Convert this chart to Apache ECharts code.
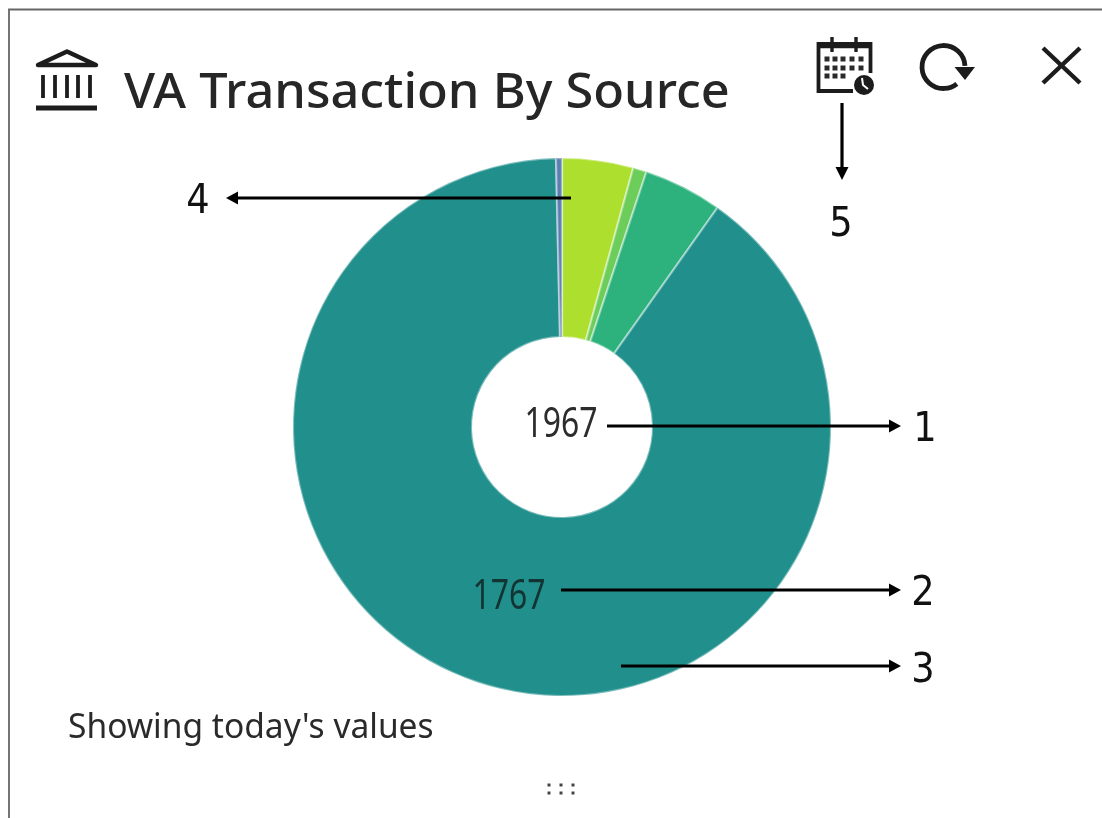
<!DOCTYPE html>
<html>
<head>
<meta charset="utf-8">
<style>html,body{margin:0;padding:0;background:#fff}#c{width:1102px;height:818px}</style>
<script src="https://cdn.jsdelivr.net/npm/echarts@6/dist/echarts.min.js"></script>
</head>
<body>
<div id="c"></div>
<script>
const sources = ['Source A', 'Source B', 'Source C', 'Source D', 'Source E'];
const values = [84, 16, 93, 1767, 7];
const colors = ['#addf2f', '#6ccd5a', '#2db27d', '#21908d', '#5b7db1'];
const totalLabel = '1967';
const mainLabel = '1767';
const titleText = 'VA Transaction By Source';
const footText = "Showing today's values";
const ink = '#222';

const chart = echarts.init(document.getElementById('c'), null, {renderer: 'canvas'});

function line(x1, y1, x2, y2, w, color) {
  return {type: 'line', z: 20, shape: {x1, y1, x2, y2}, style: {stroke: color || '#000', lineWidth: w}};
}
function tri(points, color) {
  return {type: 'polygon', z: 20, shape: {points}, style: {fill: color || '#000'}};
}
function txt(x, y, text, size, opts, scaleX) {
  return {type: 'text', z: 21, x, y, scaleX: scaleX || 1, style: Object.assign({
    text, fontSize: size, fontFamily: '"Noto Sans", sans-serif', fill: ink,
    align: 'center', verticalAlign: 'middle'
  }, opts || {})};
}
function dot(x, y, s, color) {
  return {type: 'rect', z: 20, shape: {x: x - s / 2, y: y - s / 2, width: s, height: s}, style: {fill: color || '#222'}};
}
function arrowH(x1, x2, y) {
  const d = x2 > x1 ? 1 : -1;
  return [line(x1, y, x2 - d * 8, y, 3.2), tri([[x2, y], [x2 - d * 12, y - 6.5], [x2 - d * 12, y + 6.5]])];
}
function arrowV(x, y1, y2) {
  return [line(x, y1, x, y2 - 8, 3.2), tri([[x, y2], [x - 6.5, y2 - 13], [x + 6.5, y2 - 13]])];
}

const g = [];
// frame
g.push({type: 'polyline', z: 1, shape: {points: [[9, 818], [9, 9.5], [1102, 9.5]]}, style: {stroke: '#666', lineWidth: 1.8, fill: null}});
// bank icon
g.push({type: 'polygon', z: 20, shape: {points: [[38, 65], [67, 51.5], [96, 65]]}, style: {fill: null, stroke: '#1c1c1c', lineWidth: 4.4, lineJoin: 'round'}});
[43, 55, 67, 78, 90].forEach(x => g.push(line(x, 75, x, 98, 3.8, '#1c1c1c')));
g.push(line(36, 108, 97, 108, 4.8, '#1c1c1c'));
// title and footer
g.push(txt(124, 94, titleText, 49, {align: 'left', fill: '#262626', fontWeight: 500}, 1.03));
g.push(txt(68, 728, footText, 35, {align: 'left', fill: '#2a2a2a'}, 0.958));
// calendar icon
g.push({type: 'polyline', z: 20, shape: {points: [[853, 91], [818.5, 91], [818.5, 44], [870.5, 44], [870.5, 73]]}, style: {stroke: '#1c1c1c', lineWidth: 3.8, fill: null}});
g.push(line(818, 46, 871, 46, 4.6, '#1c1c1c'));
g.push(line(832, 37, 832, 52, 3.4, '#1c1c1c'));
g.push(line(856, 37, 856, 52, 3.4, '#1c1c1c'));
[[59, 5], [68, 5], [76, 3]].forEach(r => {
  [827, 835, 843, 852, 861].slice(0, r[1]).forEach(x => g.push(dot(x, r[0], 5, '#2a2a2a')));
});
g.push({type: 'circle', z: 20, shape: {cx: 864, cy: 85, r: 10}, style: {fill: '#1c1c1c'}});
g.push({type: 'polyline', z: 21, shape: {points: [[862, 78], [863, 85], [868, 89]]}, style: {stroke: '#fff', lineWidth: 2, fill: null}});
// refresh icon
g.push({type: 'arc', z: 20, shape: {cx: 943.5, cy: 67, r: 21.5, startAngle: -0.05, endAngle: 0.9, clockwise: false}, style: {stroke: '#1c1c1c', lineWidth: 4.8, fill: null}});
g.push(tri([[954.5, 67], [975, 67], [965, 80]], '#1c1c1c'));
// close icon
g.push(line(1043, 48, 1080, 83, 4.4, '#1c1c1c'));
g.push(line(1080, 48, 1043, 83, 4.4, '#1c1c1c'));
// centre numbers
g.push(txt(561, 425, totalLabel, 42, {fontWeight: 400, fill: '#2c2c2c'}, 0.76));
g.push(txt(509, 597, mainLabel, 42, {fontWeight: 400, fill: '#123432'}, 0.76));
// callouts
g.push(...arrowH(607, 901, 426), ...arrowH(561, 901, 590), ...arrowH(621, 901, 666), ...arrowH(571, 226, 198), ...arrowV(842, 103, 180));
const numFont = {fill: '#111', fontFamily: '"DejaVu Sans", sans-serif'};
g.push(txt(925, 431, '1', 40, numFont, 0.92));
g.push(txt(923, 595, '2', 40, numFont, 0.92));
g.push(txt(923, 672, '3', 40, numFont, 0.92));
g.push(txt(198, 203, '4', 40, numFont, 0.92));
g.push(txt(841, 226, '5', 40, numFont, 0.92));
// handle dots
[[549, 785], [549, 793], [561, 785], [561, 793], [573, 785], [573, 793]].forEach(p => g.push(dot(p[0], p[1], 3, '#444')));

chart.setOption({
  animation: false,
  backgroundColor: '#fff',
  color: colors,
  tooltip: {show: false},
  legend: {show: false},
  series: [{
    type: 'pie',
    center: [562, 427],
    radius: [90, 269],
    startAngle: 90,
    clockwise: true,
    silent: true,
    label: {show: false},
    labelLine: {show: false},
    itemStyle: {borderColor: 'rgba(255,255,255,0.4)', borderWidth: 2.2},
    data: sources.map((name, i) => ({name, value: values[i]}))
  }],
  graphic: {elements: g}
});
</script>
</body>
</html>
